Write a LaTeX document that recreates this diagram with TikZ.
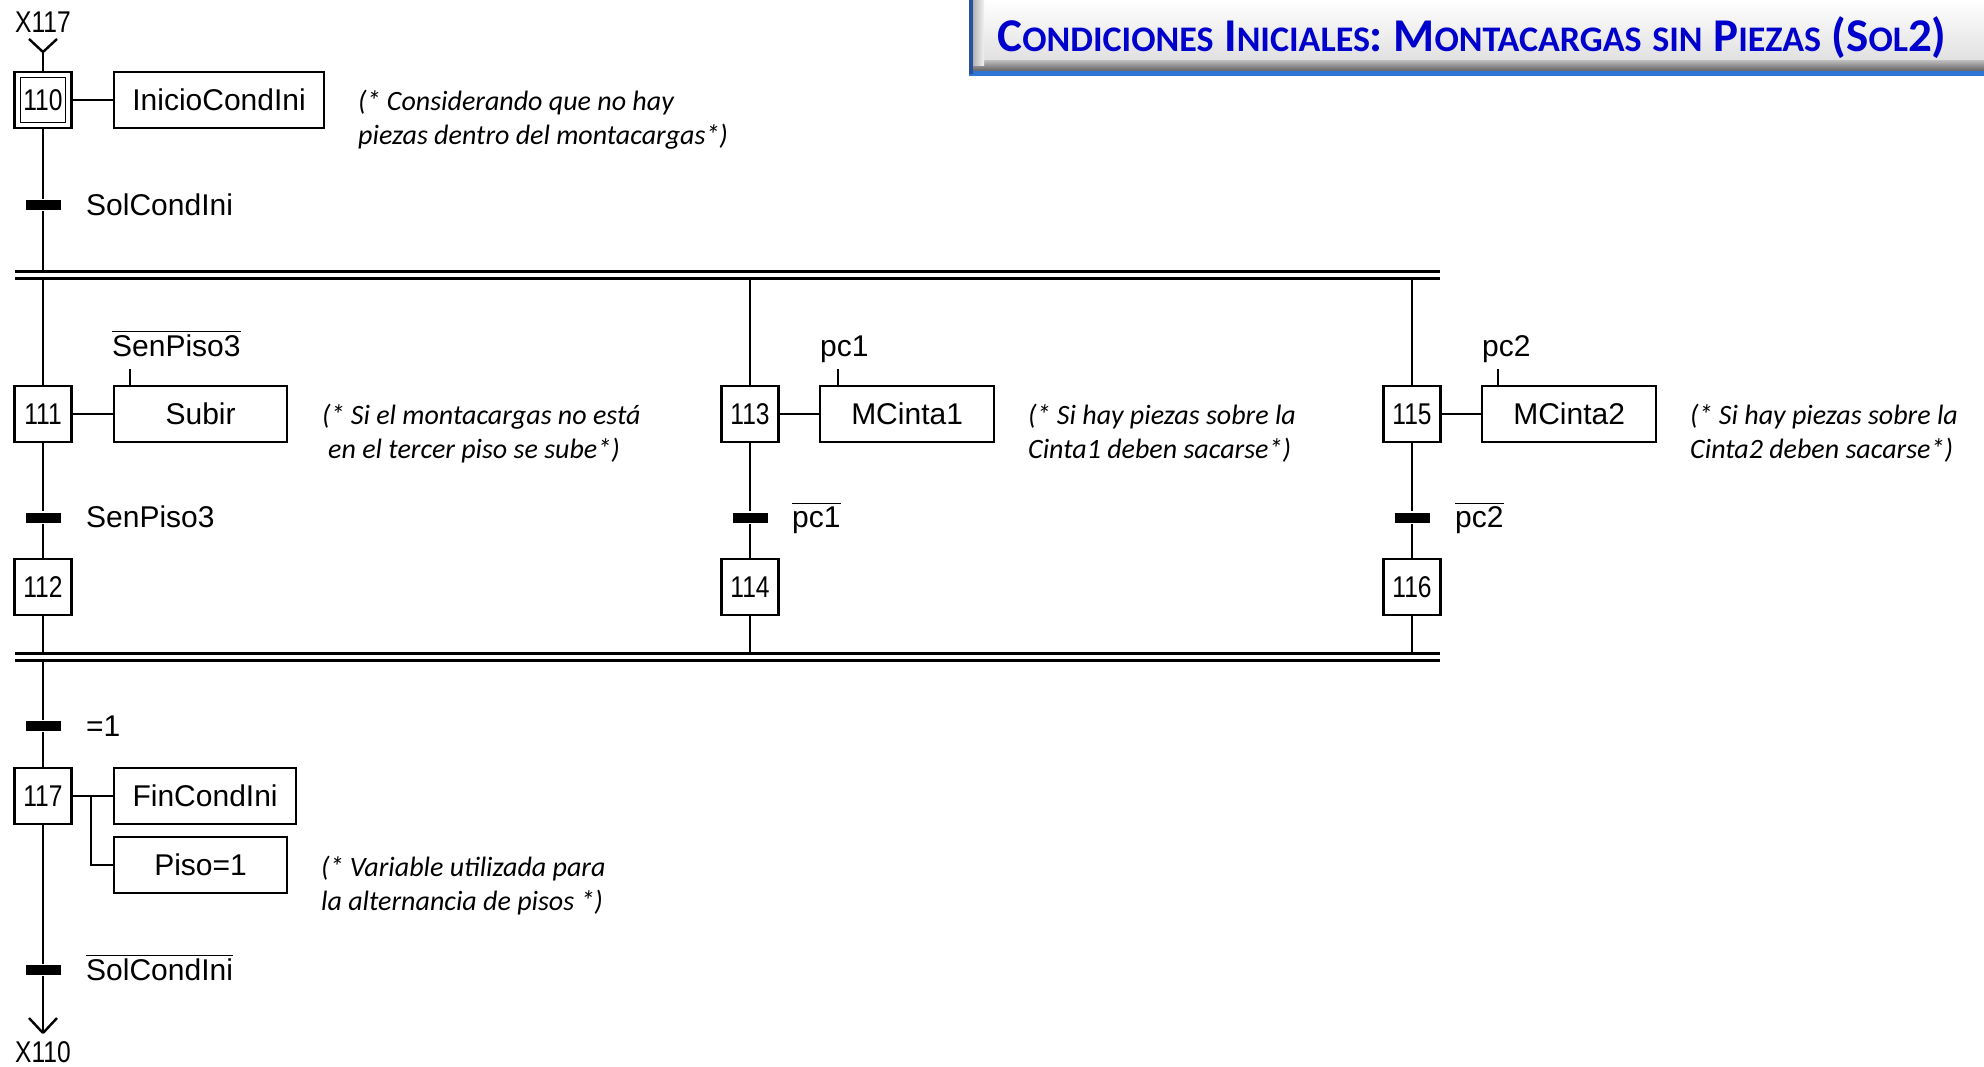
\documentclass[tikz,border=0pt]{standalone}
\usepackage{fontspec}
\setmainfont{Liberation Sans}
\newfontfamily\cmtfont{Carlito}
\newfontfamily\narrowfont[FakeStretch=0.82]{Liberation Sans}
\definecolor{ttlblue}{RGB}{0,0,204}
\definecolor{barblue}{RGB}{46,117,214}
\definecolor{edgeblue}{RGB}{40,80,160}
\newcommand\grafont{\fontsize{15pt}{17pt}\selectfont}
\newcommand\numfont{\narrowfont\fontsize{15pt}{17pt}\selectfont}
\newcommand\ovl[1]{$\overline{\mbox{#1}}$}
\newcommand\BigL[1]{{\fontsize{23.5pt}{23.5pt}\selectfont #1}}
\newcommand\SmL[1]{{\fontsize{18pt}{18pt}\selectfont #1}}
\tikzset{
  stepbox/.style={draw, line width=1.1pt, minimum width=28.5pt, minimum height=28pt, inner sep=0pt, font=\numfont},
  actbox/.style={draw, line width=1.1pt, minimum height=28pt, anchor=west, inner sep=0pt, font=\grafont},
  trbar/.style={fill=black, draw=none, minimum width=17.5pt, minimum height=5pt, inner sep=0pt},
  lbl/.style={anchor=base west, inner sep=0pt, font=\grafont},
  cmt/.style={anchor=base west, inner sep=0pt, font=\cmtfont\itshape\fontsize{14pt}{17pt}\selectfont},
}
\begin{document}
\begin{tikzpicture}[x=0.5pt,y=-0.5pt,line width=1.2pt]
\useasboundingbox (0,0) rectangle (1984,1066);
% ---- title banner
\shade[top color=white,bottom color=black!12] (973,0) rectangle (1984,61);
\shade[top color=black!25,bottom color=black!62] (973,60) rectangle (1984,71);
\shade[left color=black!30,right color=black!5] (973,0) rectangle (984,65);
\fill[barblue] (969,71) rectangle (1984,76);
\fill[edgeblue] (969,0) rectangle (973,74);
\node[font=\cmtfont\bfseries\fontsize{23.5pt}{23.5pt}\selectfont, text=ttlblue, anchor=base, inner sep=0pt] (title) at (1472,51)
 {\BigL{C}\SmL{ONDICIONES} \BigL{I}\SmL{NICIALES}\BigL{:} \BigL{M}\SmL{ONTACARGAS} \SmL{SIN} \BigL{P}\SmL{IEZAS} \BigL{(S}\SmL{OL}\BigL{2)}};
% ---- step 110
\node[font=\numfont, anchor=base, inner sep=0pt] (x117) at (43,32) {X117};
\coordinate (in) at (43,52);
\node[stepbox] (s110) at (43,100) {110};
\node[draw, line width=0.6pt, minimum width=22.5pt, minimum height=22.5pt, inner sep=0pt] (s110i) at (43,100) {};
\draw (in) -- (s110);
\draw (in) -- ++(-14,-13) (in) -- ++(14,-13);
\node[actbox, minimum width=105pt] (a110) at (113,100) {InicioCondIni};
\draw (s110) -- (a110);
\node[cmt] (c110a) at (357,110) {(* Considerando que no hay};
\node[cmt] (c110b) at (357,144) {piezas dentro del montacargas*)};
\node[trbar] (t1) at (43,205) {};
\node[lbl] (l1) at (85,215) {SolCondIni};
\coordinate (j1) at (43,271.5);
\draw (s110) -- (t1) -- (j1);
% ---- upper double bar
\coordinate (dl1) at (15,271.5); \coordinate (dr1) at (1440,271.5);
\coordinate (dl2) at (15,278.5); \coordinate (dr2) at (1440,278.5);
\draw (dl1) -- (dr1);
\draw (dl2) -- (dr2);
\coordinate (b1) at (43,278.5);
\coordinate (b2) at (750,278.5);
\coordinate (b3) at (1412,278.5);
% ---- branch 1
\node[stepbox] (s111) at (43,414) {111};
\node[actbox, minimum width=86.5pt] (a111) at (113,414) {Subir};
\coordinate (k111) at (130,369);
\node[lbl] (q111) at (111,356) {\ovl{SenPiso3}};
\draw (k111) -- (k111 |- a111.north);
\draw (s111) -- (a111);
\node[cmt] (c111a) at (321,424) {(* Si el montacargas no está};
\node[cmt] (c111b) at (327,458) {en el tercer piso se sube*)};
\node[trbar] (t2) at (43,517.5) {};
\node[lbl] (l2) at (85,527) {SenPiso3};
\node[stepbox] (s112) at (43,587) {112};
\coordinate (e1) at (43,653.5);
\draw (b1) -- (s111) -- (t2) -- (s112) -- (e1);
% ---- branch 2
\node[stepbox] (s113) at (750,414) {113};
\node[actbox, minimum width=87pt] (a113) at (819,414) {MCinta1};
\coordinate (k113) at (838,369);
\node[lbl] (q113) at (819,356) {pc1};
\draw (k113) -- (k113 |- a113.north);
\draw (s113) -- (a113);
\node[cmt] (c113a) at (1027,424) {(* Si hay piezas sobre la};
\node[cmt] (c113b) at (1027,458) {Cinta1 deben sacarse*)};
\node[trbar] (t3) at (750,517.5) {};
\node[lbl] (l3) at (791,527) {\ovl{pc1}};
\node[stepbox] (s114) at (750,587) {114};
\coordinate (e2) at (750,653.5);
\draw (b2) -- (s113) -- (t3) -- (s114) -- (e2);
% ---- branch 3
\node[stepbox] (s115) at (1412,414) {115};
\node[actbox, minimum width=87pt] (a115) at (1481,414) {MCinta2};
\coordinate (k115) at (1498,369);
\node[lbl] (q115) at (1481,356) {pc2};
\draw (k115) -- (k115 |- a115.north);
\draw (s115) -- (a115);
\node[cmt] (c115a) at (1689,424) {(* Si hay piezas sobre la};
\node[cmt] (c115b) at (1689,458) {Cinta2 deben sacarse*)};
\node[trbar] (t4) at (1412,517.5) {};
\node[lbl] (l4) at (1454,527) {\ovl{pc2}};
\node[stepbox] (s116) at (1412,587) {116};
\coordinate (e3) at (1412,653.5);
\draw (b3) -- (s115) -- (t4) -- (s116) -- (e3);
% ---- lower double bar
\coordinate (gl1) at (15,653.5); \coordinate (gr1) at (1440,653.5);
\coordinate (gl2) at (15,660.5); \coordinate (gr2) at (1440,660.5);
\draw (gl1) -- (gr1);
\draw (gl2) -- (gr2);
\coordinate (f1) at (43,660.5);
% ---- step 117
\node[trbar] (t5) at (43,726) {};
\node[lbl] (l5) at (85,736) {=1};
\node[stepbox] (s117) at (43,796) {117};
\node[actbox, minimum width=91pt] (a117a) at (113,796) {FinCondIni};
\node[actbox, minimum width=86.5pt] (a117b) at (113,865) {Piso=1};
\draw (s117) -- (a117a);
\coordinate (br) at (91,796);
\draw (br) |- (a117b);
\node[cmt] (c117a) at (320,876) {(* Variable utilizada para};
\node[cmt] (c117b) at (320,910) {la alternancia de pisos *)};
\node[trbar] (t6) at (43,970) {};
\node[lbl] (l6) at (85,980) {\ovl{SolCondIni}};
\coordinate (out) at (43,1033);
\draw (f1) -- (t5) -- (s117) -- (t6) -- (out);
\draw (out) -- ++(-14,-15) (out) -- ++(14,-15);
\node[font=\numfont, anchor=base, inner sep=0pt] (x110) at (43,1062) {X110};
\end{tikzpicture}
\end{document}
